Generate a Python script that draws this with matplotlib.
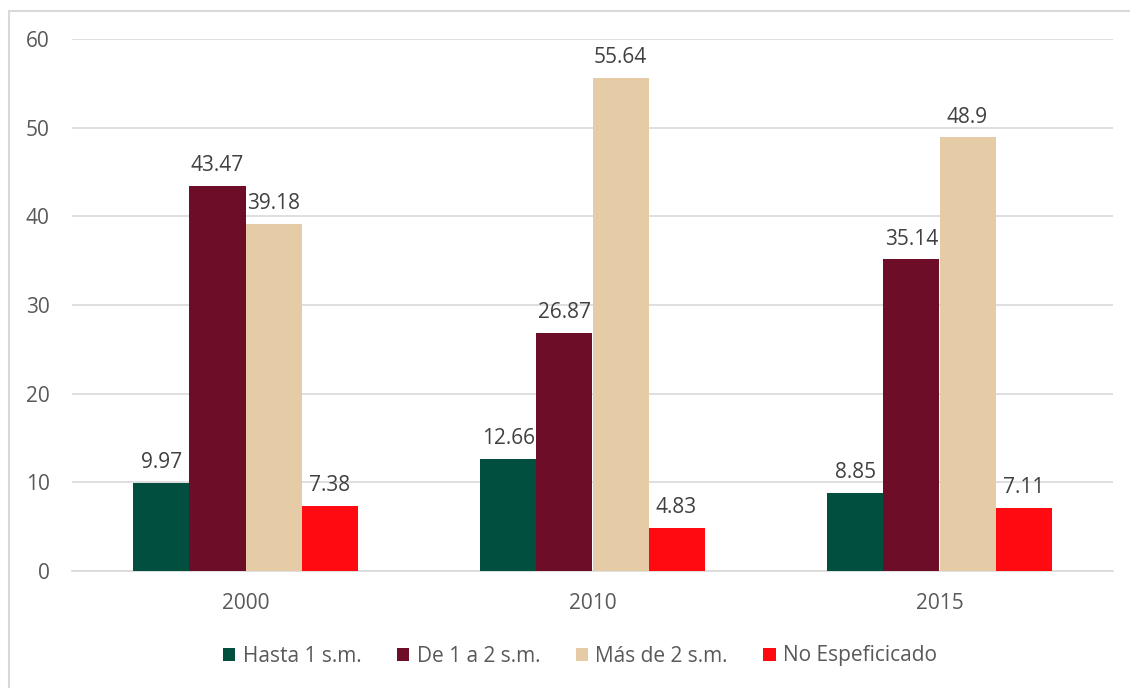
import numpy as np
import matplotlib.pyplot as plt
from matplotlib.patches import Rectangle

plt.rcParams['font.family'] = ['Open Sans', 'DejaVu Sans']

years = ["2000", "2010", "2015"]
series = ["Hasta 1 s.m.", "De 1 a 2 s.m.", "Más de 2 s.m.", "No Espeficicado"]
hasta1 = [9.97, 12.66, 8.85]
de1a2 = [43.47, 26.87, 35.14]
mas2 = [39.18, 55.64, 48.9]
no_esp = [7.38, 4.83, 7.11]
colors = ["#004F3F", "#6D0D27", "#E6CCA6", "#FF0A10"]

text_col = "#595959"
fig = plt.figure(figsize=(11.3, 6.88), dpi=100)
ax = fig.add_axes([72/1130, 1-571/688, (1113-72)/1130, (571-39)/688])

x = np.arange(len(years))
w = 0.1615
for i, (vals, lab) in enumerate(zip([hasta1, de1a2, mas2, no_esp], series)):
    pos = x + (i - 1.5) * w
    ax.bar(pos, vals, w, color=colors[i], label=lab, zorder=3)
    for p, v in zip(pos, vals):
        ax.annotate(f"{v:g}", (p, v), xytext=(0, 7), textcoords="offset points",
                    ha="center", va="bottom", fontsize=15, color="#404040")

ax.set_xlim(-0.5, 2.5)
ax.set_ylim(0, 60)
ax.set_yticks(range(0, 61, 10))
ax.set_xticks(x)
ax.set_xticklabels(years)
ax.grid(axis="y", color="#D9D9D9", linewidth=1.2, zorder=0)
for s in ["top", "right", "left"]:
    ax.spines[s].set_visible(False)
ax.spines["bottom"].set_color("#D9D9D9")
ax.spines["bottom"].set_linewidth(1.2)
ax.tick_params(length=0, labelsize=15, labelcolor=text_col)
ax.tick_params(axis="y", pad=16)
ax.tick_params(axis="x", pad=16)

fig.legend(loc="center", bbox_to_anchor=(580/1130, 1-656/688), ncol=4, frameon=False,
           fontsize=15, labelcolor=text_col, handlelength=0.6, handleheight=0.6,
           handletextpad=0.35, columnspacing=1.7)

fig.patches.append(Rectangle((9/1130, -0.1), 1.2, 1-11/688+0.1, transform=fig.transFigure,
                             fill=False, edgecolor="#D9D9D9", linewidth=1.5))

fig.savefig("out.png", dpi=100)
